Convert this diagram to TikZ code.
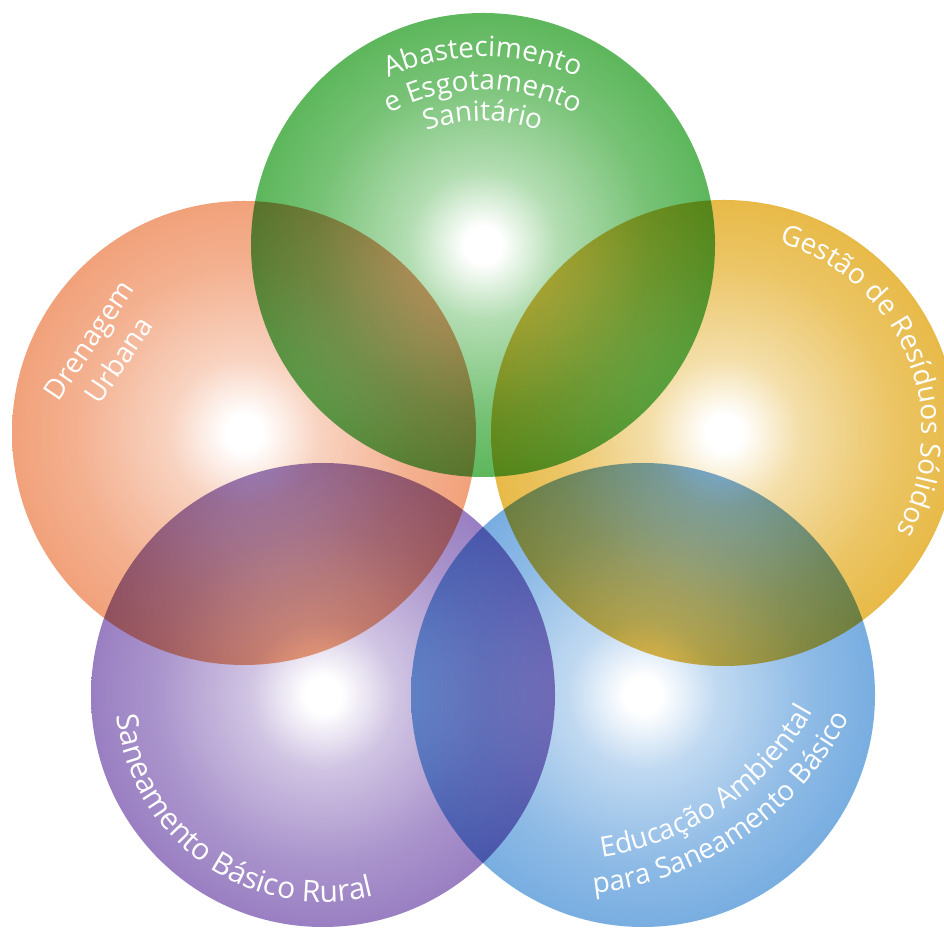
\documentclass[tikz,border=0pt]{standalone}
\usepackage{fontspec}
\setmainfont{Open Sans}
\usetikzlibrary{decorations.text}

% edge colours of the five discs
\definecolor{cirG}{RGB}{56,166,54}
\definecolor{cirO}{RGB}{238,140,92}
\definecolor{cirY}{RGB}{226,170,30}
\definecolor{cirP}{RGB}{130,98,180}
\definecolor{cirB}{RGB}{90,155,218}

% radial glow: small white core fading to the full colour
\newcommand\mkglow[2]{%
  \pgfdeclareradialshading{glow#1}{\pgfpoint{0bp}{0bp}}{%
    color(0bp)=(white); color(2bp)=(white);
    color(8bp)=(white!62!#2); color(18bp)=(white!32!#2);
    color(30bp)=(white!9!#2); color(38bp)=(#2); color(50bp)=(#2)}}
\mkglow{G}{cirG}
\mkglow{O}{cirO}
\mkglow{Y}{cirY}
\mkglow{P}{cirP}
\mkglow{B}{cirB}

\newcommand\lblfont{\fontsize{28}{36}\selectfont}
\newcommand\lblbig{\fontsize{30}{36}\selectfont}

\tikzset{
  disc/.style={shading=glow#1},
  arclabel/.style={decorate, decoration={text along path,
      text align=center, text color=white, text={|\lblfont|#1}}},
  arclabelbig/.style={decorate, decoration={text along path,
      text align=center, text color=white, text={|\lblbig|#1}}},
}

\begin{document}
\begin{tikzpicture}[x=1pt,y=1pt]
  \fill[white] (0,0) rectangle (944,928);
  \useasboundingbox (0,0) rectangle (944,928);

  % disc centres
  \coordinate (cG) at (483,683);
  \coordinate (cO) at (244,495);
  \coordinate (cY) at (724,495);
  \coordinate (cP) at (323,233);
  \coordinate (cB) at (643,233);
  % centres of the curved label lines
  \coordinate (tG) at (483,640);
  \coordinate (tB) at (560,358);

  \begin{scope}[blend group=multiply]
    \shade[disc=G] (cG) circle[radius=232];
    \shade[disc=O] (cO) circle[radius=232];
    \shade[disc=Y] (cY) circle[radius=233];
    \shade[disc=P] (cP) circle[radius=232];
    \shade[disc=B] (cB) circle[radius=232];
  \end{scope}

  % Abastecimento e Esgotamento Sanitario
  \path[shift={(tG)}, arclabel={Abastecimento}]
    (160:231) arc[start angle=160, end angle=20, radius=231];
  \path[shift={(tG)}, arclabel={e Esgotamento}]
    (160:198) arc[start angle=160, end angle=20, radius=198];
  \path[shift={(tG)}, arclabel={Sanitário}]
    (160:167) arc[start angle=160, end angle=20, radius=167];

  % Drenagem Urbana
  \node[rotate=56, align=center, text=white, font=\lblfont, inner sep=0pt]
    (drn) at (104,578) {Drenagem\\Urbana};

  % Gestao de Residuos Solidos
  \path[shift={(cY)}, arclabel={Gestão de Resíduos Sólidos}]
    (102:198) arc[start angle=102, end angle=-58, radius=198];

  % Saneamento Basico Rural
  \path[shift={(cP)}, arclabelbig={Saneamento Básico Rural}]
    (150:207) arc[start angle=150, end angle=320, radius=207];

  % Educacao Ambiental para Saneamento Basico
  \path[shift={(tB)}, arclabel={Educação Ambiental}]
    (-115:290) arc[start angle=-115, end angle=4, radius=290];
  \path[shift={(tB)}, arclabel={para Saneamento Básico}]
    (-115:325) arc[start angle=-115, end angle=4, radius=325];
\end{tikzpicture}
\end{document}
